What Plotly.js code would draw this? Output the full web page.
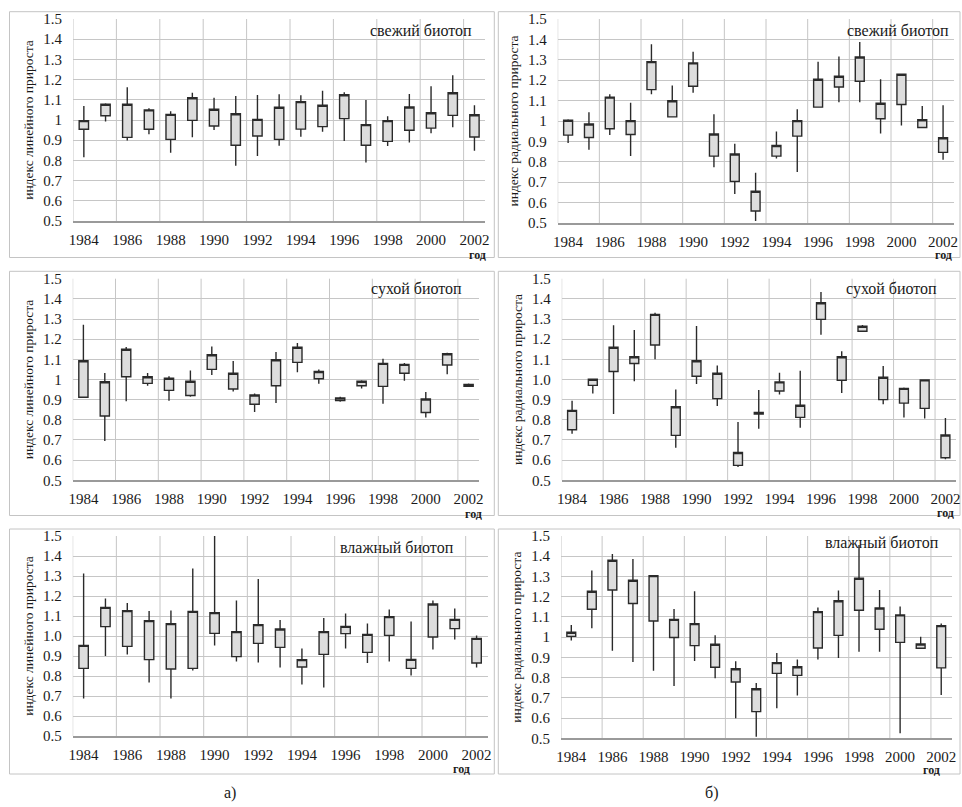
<!DOCTYPE html>
<html><head><meta charset="utf-8">
<script src="https://cdn.plot.ly/plotly-3.0.1.min.js"></script>
<style>html,body{margin:0;padding:0;background:#fff}#chart{width:962px;height:807px}
#chart text{font-family:'Liberation Serif',serif !important}</style>
</head><body><div id="chart"></div>
<script>
// ---------- data ----------
const years = [1984,1985,1986,1987,1988,1989,1990,1991,1992,1993,1994,1995,1996,1997,1998,1999,2000,2001,2002];
const tickYears = [1984,1986,1988,1990,1992,1994,1996,1998,2000,2002];
const yTicks = [0.5,0.6,0.7,0.8,0.9,1.0,1.1,1.2,1.3,1.4,1.5];
const yTextPlain = ['0.5','0.6','0.7','0.8','0.9','1','1.1','1.2','1.3','1.4','1.5'];
const yTextDecimal = ['0.5','0.6','0.7','0.8','0.9','1.0','1.1','1.2','1.3','1.4','1.5'];

// а) линейный прирост, свежий биотоп
const linFreshHigh   = [1.069,1.083,1.162,1.058,1.043,1.135,1.110,1.119,1.124,1.127,1.122,1.145,1.137,1.099,1.018,1.129,1.167,1.221,1.073];
const linFreshTop    = [0.997,1.078,1.078,1.050,1.028,1.110,1.053,1.031,1.003,1.063,1.091,1.073,1.125,0.977,0.997,1.064,1.036,1.135,1.026];
const linFreshBottom = [0.954,1.021,0.914,0.954,0.904,0.998,0.970,0.875,0.921,0.904,0.955,0.967,1.007,0.875,0.894,0.949,0.960,1.023,0.916];
const linFreshLow    = [0.815,0.992,0.898,0.929,0.838,0.914,0.950,0.774,0.822,0.873,0.917,0.942,0.896,0.790,0.871,0.888,0.934,0.964,0.848];

// б) радиальный прирост, свежий биотоп
const radFreshHigh   = [1.009,1.043,1.131,1.089,1.376,1.174,1.340,1.033,0.888,0.746,0.949,1.058,1.290,1.316,1.387,1.205,1.229,1.074,1.077];
const radFreshTop    = [1.004,0.985,1.117,1.002,1.291,1.099,1.285,0.936,0.838,0.656,0.880,1.002,1.205,1.219,1.314,1.087,1.229,1.006,0.918];
const radFreshBottom = [0.931,0.919,0.962,0.934,1.154,1.020,1.170,0.828,0.704,0.559,0.828,0.926,1.068,1.167,1.195,1.011,1.081,0.968,0.846];
const radFreshLow    = [0.892,0.859,0.931,0.828,1.131,1.020,1.139,0.773,0.642,0.510,0.816,0.750,1.068,1.092,1.092,0.939,0.978,0.968,0.810];

// а) линейный прирост, сухой биотоп
const linDryHigh   = [1.272,1.032,1.161,1.032,1.016,1.045,1.164,1.092,0.930,1.136,1.181,1.050,0.915,0.996,1.103,1.082,0.938,1.133,0.980];
const linDryTop    = [1.093,0.989,1.150,1.014,1.006,0.991,1.123,1.031,0.923,1.098,1.160,1.040,0.908,0.991,1.080,1.075,0.903,1.128,0.976];
const linDryBottom = [0.912,0.819,1.014,0.981,0.946,0.921,1.050,0.953,0.877,0.969,1.085,1.004,0.895,0.969,0.966,1.031,0.836,1.072,0.966];
const linDryLow    = [0.908,0.695,0.892,0.969,0.895,0.915,1.022,0.940,0.839,0.883,1.036,0.979,0.890,0.955,0.880,0.994,0.811,1.026,0.963];

// б) радиальный прирост, сухой биотоп
const radDryHigh   = [0.895,1.004,1.269,1.245,1.331,0.950,1.265,1.070,0.789,0.948,1.034,1.044,1.434,1.140,1.270,1.067,0.960,0.998,0.809];
const radDryTop    = [0.847,1.001,1.160,1.113,1.323,0.865,1.093,1.031,0.638,0.837,0.988,0.872,1.381,1.113,1.264,1.011,0.956,0.998,0.725];
const radDryBottom = [0.751,0.971,1.040,1.079,1.171,0.723,1.016,0.905,0.574,0.829,0.943,0.812,1.298,0.996,1.239,0.900,0.883,0.857,0.612];
const radDryLow    = [0.731,0.930,0.829,0.991,1.100,0.662,0.978,0.869,0.566,0.756,0.926,0.761,1.222,0.933,1.239,0.877,0.812,0.806,0.604];

// а) линейный прирост, влажный биотоп
const linWetHigh   = [1.313,1.188,1.165,1.125,1.128,1.338,1.500,1.178,1.285,1.080,0.938,1.090,1.113,1.063,1.133,1.073,1.178,1.138,1.002];
const linWetTop    = [0.953,1.143,1.127,1.077,1.062,1.123,1.117,1.022,1.057,1.035,0.882,1.022,1.048,1.008,1.097,0.883,1.160,1.083,0.988];
const linWetBottom = [0.838,1.047,0.948,0.882,0.835,0.838,1.013,0.897,0.963,0.943,0.845,0.908,1.012,0.918,1.003,0.838,0.995,1.037,0.865];
const linWetLow    = [0.688,0.900,0.908,0.767,0.688,0.827,0.952,0.872,0.867,0.843,0.758,0.742,0.938,0.865,0.873,0.802,0.932,0.983,0.842];

// б) радиальный прирост, влажный биотоп
const radWetHigh   = [1.060,1.330,1.411,1.386,1.304,1.139,1.227,1.009,0.881,0.773,0.922,0.890,1.146,1.231,1.456,1.233,1.152,1.002,1.067];
const radWetTop    = [1.024,1.227,1.380,1.281,1.304,1.088,1.067,0.965,0.844,0.745,0.874,0.854,1.126,1.180,1.291,1.144,1.110,0.966,1.057];
const radWetBottom = [1.004,1.138,1.233,1.166,1.080,0.998,0.958,0.851,0.778,0.632,0.821,0.811,0.946,1.009,1.133,1.039,0.974,0.945,0.848];
const radWetLow    = [0.983,1.044,0.933,0.877,0.834,0.759,0.882,0.797,0.599,0.508,0.648,0.711,0.889,0.897,0.928,0.928,0.525,0.945,0.714];

const titleFresh = 'свежий биотоп', titleDry = 'сухой биотоп', titleWet = 'влажный биотоп';
const yTitleLin = 'индекс линейного прироста', yTitleRad = 'индекс радиального прироста';
const xUnit = 'год';
const panelLabels = ['а)', 'б)'];

// ---------- layout (pixel geometry) ----------
const W = 962, H = 807;
const px = v => v / W, py = v => 1 - v / H;
const FONT = 'Liberation Serif';

const panels = [
  {title:titleFresh, ytitle:yTitleLin, high:linFreshHigh, top:linFreshTop, bottom:linFreshBottom, low:linFreshLow, ytext:yTextPlain,
   plot:[73,485.3,19,221], tpos:[421,30], god:[477,246]},
  {title:titleFresh, ytitle:yTitleRad, high:radFreshHigh, top:radFreshTop, bottom:radFreshBottom, low:radFreshLow, ytext:yTextPlain,
   plot:[557.7,953.5,19,223], tpos:[898,30], god:[943,246]},
  {title:titleDry, ytitle:yTitleLin, high:linDryHigh, top:linDryTop, bottom:linDryBottom, low:linDryLow, ytext:yTextPlain,
   plot:[72.7,479.3,278.7,480.3], tpos:[416,289], god:[473,505]},
  {title:titleDry, ytitle:yTitleRad, high:radDryHigh, top:radDryTop, bottom:radDryBottom, low:radDryLow, ytext:yTextDecimal,
   plot:[561.7,955.8,278.7,480.3], tpos:[891,289], god:[945,504]},
  {title:titleWet, ytitle:yTitleLin, high:linWetHigh, top:linWetTop, bottom:linWetBottom, low:linWetLow, ytext:yTextDecimal,
   plot:[72.7,487.5,536,736], tpos:[397,547], god:[461,760]},
  {title:titleWet, ytitle:yTitleRad, high:radWetHigh, top:radWetTop, bottom:radWetBottom, low:radWetLow, ytext:yTextPlain,
   plot:[561,951.5,536,738.3], tpos:[882,542], god:[931,761]}
];

const frames = [
  [9.5,494.3,11.7,257.5],[498.3,960,11.7,257.5],
  [9.5,494.3,271.3,515.5],[498.3,960,271.3,515.5],
  [9.5,494.3,529,774],[498.3,960,529,774]
];

const traces = [];
const shapes = [];
const annotations = [];
const layout = {
  width: W, height: H, margin:{l:0,r:0,t:0,b:0},
  paper_bgcolor:'#ffffff', plot_bgcolor:'rgba(0,0,0,0)',
  font:{family:FONT, size:15, color:'#1a1a1a'},
  showlegend:false, boxgap:0.57, boxgroupgap:0,
  shapes, annotations
};

const candleStyle = {line:{color:'#2a2a2a', width:1.4}, fillcolor:'#dddddd'};
const gridColor = '#c6c6c6';

frames.forEach(f => shapes.push({type:'rect', xref:'paper', yref:'paper',
  x0:px(f[0]), x1:px(f[1]), y0:py(f[3]), y1:py(f[2]), line:{color:'#c4c4c4', width:1}, layer:'below'}));

panels.forEach((p, i) => {
  const n = i === 0 ? '' : String(i + 1);
  traces.push({
    type:'candlestick', x:years, open:p.bottom, close:p.top, high:p.high, low:p.low,
    xaxis:'x' + n, yaxis:'y' + n, whiskerwidth:0,
    increasing:candleStyle, decreasing:candleStyle,
    showlegend:false, hoverinfo:'x+y'
  });
  layout['xaxis' + n] = {
    domain:[px(p.plot[0]), px(p.plot[1])], anchor:'y' + n, type:'linear',
    range:[years[0] - 0.5, years[years.length - 1] + 0.5],
    tickmode:'array', tickvals:tickYears, ticktext:tickYears.map(String),
    showgrid:false, zeroline:false, showline:true, linecolor:'#9a9a9a', linewidth:1.5,
    ticks:'', ticklabelstandoff:4, tickfont:{family:FONT, size:15, color:'#1a1a1a'},
    rangeslider:{visible:false}, fixedrange:true
  };
  layout['yaxis' + n] = {
    domain:[py(p.plot[3]), py(p.plot[2])], anchor:'x' + n, range:[0.5, 1.5],
    tickmode:'array', tickvals:yTicks, ticktext:p.ytext,
    showgrid:true, gridcolor:gridColor, gridwidth:1, zeroline:false, showline:false,
    ticks:'', ticklabelstandoff:10, tickfont:{family:FONT, size:15, color:'#1a1a1a'},
    title:{text:p.ytitle, font:{family:FONT, size:13.5, color:'#1a1a1a'}, standoff:6},
    fixedrange:true
  };
  // vertical grid lines at category boundaries between every second year
  tickYears.forEach(t => shapes.push({type:'line', xref:'x' + n, yref:'y' + n + ' domain',
    x0:t - 0.5, x1:t - 0.5, y0:0, y1:1, line:{color:gridColor, width:1}, layer:'below'}));
  annotations.push({xref:'paper', yref:'paper', x:px(p.tpos[0]), y:py(p.tpos[1]), text:p.title,
    showarrow:false, xanchor:'center', yanchor:'middle', font:{family:FONT, size:16, color:'#1a1a1a'}});
  annotations.push({xref:'paper', yref:'paper', x:px(p.god[0]), y:py(p.god[1]), text:'<b>' + xUnit + '</b>',
    showarrow:false, xanchor:'center', yanchor:'top', font:{family:FONT, size:12, color:'#1a1a1a'}});
});

annotations.push({xref:'paper', yref:'paper', x:px(230), y:py(793), text:panelLabels[0], showarrow:false,
  xanchor:'center', yanchor:'middle', font:{family:FONT, size:16, color:'#1a1a1a'}});
annotations.push({xref:'paper', yref:'paper', x:px(711), y:py(793), text:panelLabels[1], showarrow:false,
  xanchor:'center', yanchor:'middle', font:{family:FONT, size:16, color:'#1a1a1a'}});

Plotly.newPlot('chart', traces, layout, {staticPlot:true, displayModeBar:false});
</script>
</body></html>
